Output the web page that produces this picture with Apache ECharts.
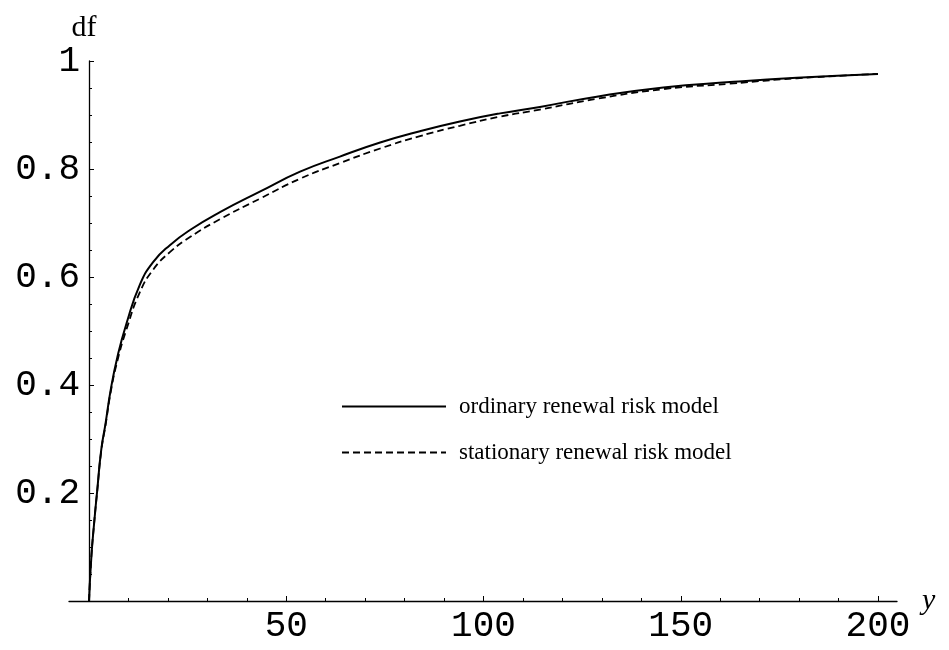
<!DOCTYPE html>
<html>
<head>
<meta charset="UTF-8">
<title>df - renewal risk models</title>
<script type="text/javascript" src="https://cdn.jsdelivr.net/npm/echarts@6/dist/echarts.min.js"></script>
<style>
	html, body { margin: 0; padding: 0; background: #fff; }
</style>
</head>

<body>
	<div id="chartmain" style="width: 949px; height: 650px;"></div>
</body>
<script type="text/javascript">
	// values
	var xs = [0, 0.6, 1.3, 2.1, 3.1, 4.2, 5.5, 7.2, 9.5, 12.9, 16.3, 20.5, 25.6, 33.2, 43.3, 53.5, 63.6, 73.8, 83.9, 94, 104.2, 114.3, 128.7, 145.6, 162.5, 179.4, 200];
	var ordinary = [0, 0.082, 0.144, 0.206, 0.28, 0.329, 0.391, 0.452, 0.514, 0.586, 0.628, 0.659, 0.687, 0.72, 0.758, 0.795, 0.823, 0.849, 0.87, 0.888, 0.903, 0.915, 0.934, 0.951, 0.961, 0.969, 0.976];
	var stationary = [0, 0.082, 0.144, 0.205, 0.278, 0.326, 0.387, 0.445, 0.503, 0.572, 0.614, 0.646, 0.674, 0.707, 0.745, 0.782, 0.811, 0.838, 0.861, 0.88, 0.897, 0.91, 0.93, 0.948, 0.958, 0.968, 0.976];
	var seriesNames = ['ordinary renewal risk model', 'stationary renewal risk model'];
	var xTickLabels = ['', '50', '100', '150', '200'];
	var yTickLabels = ['', '0.2', '0.4', '0.6', '0.8', '1'];

	function pairs(ys) {
		return xs.map(function (x, i) { return [x, ys[i]]; });
	}

	var mono = 'Liberation Mono';
	var serif = 'Liberation Serif';

	var myChart = echarts.init(document.getElementById('chartmain'));
	myChart.setOption({
		backgroundColor: '#fff',
		animation: false,
		grid: [
			// only for the long x axis line
			{ left: 69, right: 52, top: 61, bottom: 49 },
			// the plot itself
			{ left: 89, right: 71, top: 61, bottom: 49 }
		],
		legend: {
			orient: 'vertical',
			left: 336,
			top: 390,
			itemWidth: 104,
			itemHeight: 14,
			itemGap: 23,
			itemStyle: { opacity: 0 },
			textStyle: { fontFamily: serif, fontSize: 23, color: '#000', padding: [0, 0, 0, 8] },
			data: seriesNames
		},
		xAxis: [{
			gridIndex: 0,
			type: 'value',
			min: -5,
			max: 205,
			axisLine: { show: true, lineStyle: { color: '#000', width: 1.3 } },
			axisTick: { show: false },
			axisLabel: { show: false },
			splitLine: { show: false },
			name: 'y',
			nameLocation: 'end',
			nameGap: 25,
			nameTextStyle: { fontFamily: serif, fontStyle: 'italic', fontSize: 30, color: '#000' }
		}, {
			gridIndex: 1,
			type: 'value',
			min: 0,
			max: 200,
			interval: 50,
			axisLine: { show: false },
			axisTick: { show: true, inside: true, length: 5, lineStyle: { color: '#000', width: 1 } },
			minorTick: { show: true, splitNumber: 5, length: 3, lineStyle: { color: '#000', width: 1 } },
			axisLabel: {
				margin: 7,
				fontFamily: mono,
				fontSize: 36,
				color: '#000',
				formatter: function (v, i) { return xTickLabels[i]; }
			},
			splitLine: { show: false }
		}],
		yAxis: [{
			gridIndex: 0,
			type: 'value',
			min: 0,
			max: 1,
			show: false
		}, {
			gridIndex: 1,
			type: 'value',
			min: 0,
			max: 1,
			interval: 0.2,
			axisLine: { show: true, lineStyle: { color: '#000', width: 1.3 } },
			axisTick: { show: true, inside: true, length: 5, lineStyle: { color: '#000', width: 1 } },
			minorTick: { show: true, splitNumber: 4, length: 3, lineStyle: { color: '#000', width: 1 } },
			axisLabel: {
				margin: 9,
				fontFamily: mono,
				fontSize: 36,
				color: '#000',
				formatter: function (v, i) { return yTickLabels[i]; }
			},
			splitLine: { show: false },
			name: 'df',
			nameLocation: 'end',
			nameGap: 12,
			nameTextStyle: { fontFamily: serif, fontSize: 30, color: '#000', padding: [0, 10, 0, 0] }
		}],
		series: [{
			name: seriesNames[0],
			type: 'line',
			xAxisIndex: 1,
			yAxisIndex: 1,
			data: pairs(ordinary),
			smooth: true,
			symbol: 'none',
			lineStyle: { color: '#000', width: 2, type: 'solid' },
			itemStyle: { color: '#000' }
		}, {
			name: seriesNames[1],
			type: 'line',
			xAxisIndex: 1,
			yAxisIndex: 1,
			data: pairs(stationary),
			smooth: true,
			symbol: 'none',
			lineStyle: { color: '#000', width: 1.8, type: [7, 4] },
			itemStyle: { color: '#000' }
		}]
	});
</script>
</html>
